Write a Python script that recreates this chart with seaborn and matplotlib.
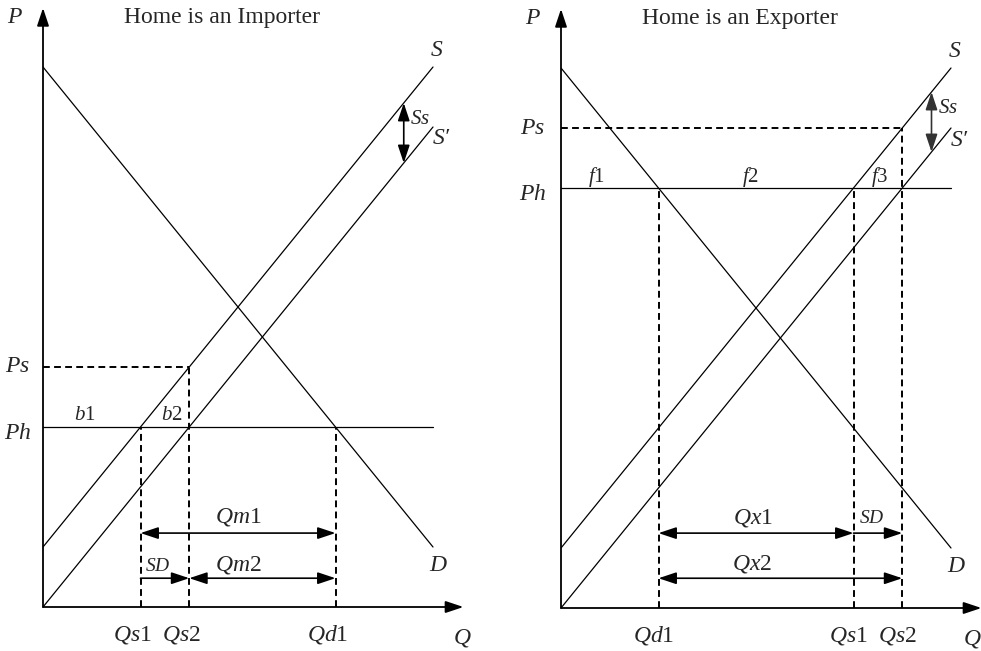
import matplotlib
matplotlib.use("Agg")
from matplotlib import pyplot as plt
import seaborn as sns
import pandas as pd

# 数据: 两端点的直线 (数量, 价格)
quantity = [0, 10]
demand_p = [11.25, 1.25]
supply_p = [1.25, 11.25]
supply_sub_p = [0, 10]

# 进口国
imp_ph, imp_ps = 3.75, 5.0
imp_qs1, imp_qs2, imp_qd1 = 2.5, 3.75, 7.5
# 出口国
exp_ph, exp_ps = 8.75, 10.0
exp_qd1, exp_qs1, exp_qs2 = 2.5, 7.5, 8.75

titles = ["Home is an Importer", "Home is an Exporter"]

sns.set_theme(style="white")
plt.rcParams['font.family'] = ['Liberation Serif', 'DejaVu Serif']
plt.rcParams['mathtext.fontset'] = 'custom'
plt.rcParams['mathtext.rm'] = 'Liberation Serif'
plt.rcParams['mathtext.it'] = 'Liberation Serif:italic'

fig = plt.figure(figsize=(9.81, 6.51), dpi=100)
W, H = 981, 651
XMAX, YMAX = 10.8, 12.5
axL = fig.add_axes([43 / W, (H - 607) / H, XMAX * 39 / W, YMAX * 48 / H])
axR = fig.add_axes([561 / W, (H - 608) / H, XMAX * 39 / W, YMAX * 48 / H])

curves = pd.DataFrame({"Q": quantity * 3,
                       "P": demand_p + supply_p + supply_sub_p,
                       "curve": ["D"] * 2 + ["S"] * 2 + ["S'"] * 2})

LW = 0.9
DASH = dict(color="black", lw=1.4, ls=(0, (3.5, 2.2)))
FS = 17
FS_S = 14


def arrow(ax, x0, y0, x1, y1, style="<|-|>", lw=1.2, color="black", hl=0.9, hw=0.3):
    ax.annotate("", xy=(x1, y1), xytext=(x0, y0), annotation_clip=False,
                arrowprops=dict(arrowstyle=f"{style},head_length={hl},head_width={hw}",
                                color=color, lw=lw, shrinkA=0, shrinkB=0,
                                mutation_scale=12))


def base(ax, title, qx):
    ax.set_xlim(0, XMAX)
    ax.set_ylim(0, YMAX)
    ax.axis("off")
    for name, g in curves.groupby("curve"):
        sns.lineplot(data=g, x="Q", y="P", ax=ax, color="black", lw=LW,
                     estimator=None, legend=False)
    arrow(ax, 0, 0, 0, YMAX - 0.02, style="-|>", lw=1.3)
    arrow(ax, 0, 0, XMAX - 0.02, 0, style="-|>", lw=1.3)
    ax.text(-0.72, 12.29, "$P$", fontsize=FS, ha="center", va="center")
    ax.text(XMAX / 2 - 0.8, 12.29, title, fontsize=FS, ha="center", va="center")
    ax.text(10.1, 11.6, "$S$", fontsize=FS, ha="center", va="center")
    ax.text(10.22, 9.75, "S\u2032", fontsize=FS, style="italic", ha="center", va="center")
    ax.text(10.15, 0.87, "$D$", fontsize=FS, ha="center", va="center")
    ax.text(qx, -0.88, "$Q$", fontsize=FS, ha="center", va="bottom")


# ---------- 左图: 进口 ----------
base(axL, titles[0], 10.75)
sns.lineplot(x=[0, XMAX - 0.8], y=[imp_ph, imp_ph], ax=axL, color="black", lw=LW)
axL.plot([0, imp_qs2], [imp_ps, imp_ps], **DASH)
axL.plot([imp_qs1, imp_qs1], [0, imp_ph], **DASH)
axL.plot([imp_qs2, imp_qs2], [0, imp_ps], **DASH)
axL.plot([imp_qd1, imp_qd1], [0, imp_ph], **DASH)
arrow(axL, 9.25, 9.25, 9.25, 10.5)
axL.text(9.42, 10.15, "$Ss$", fontsize=FS_S + 1, ha="left", va="center")
arrow(axL, imp_qs1, 1.54, imp_qd1, 1.54)
arrow(axL, imp_qs1, 0.6, imp_qs2, 0.6, style="-|>")
arrow(axL, imp_qs2, 0.6, imp_qd1, 0.6)
axL.text(5.0, 1.87, "$Qm1$", fontsize=FS, ha="center", va="center")
axL.text(5.0, 0.87, "$Qm2$", fontsize=FS, ha="center", va="center")
axL.text(2.95, 0.85, "$SD$", fontsize=FS_S, ha="center", va="center")
axL.text(1.08, 3.98, "$b1$", fontsize=FS_S + 1, ha="center", va="center")
axL.text(3.3, 3.98, "$b2$", fontsize=FS_S + 1, ha="center", va="center")
axL.text(-0.65, imp_ph - 0.14, "$Ph$", fontsize=FS, ha="center", va="center")
axL.text(-0.65, imp_ps, "$Ps$", fontsize=FS, ha="center", va="center")
for q, lab in [(imp_qs1, "$Qs1$"), (imp_qs2, "$Qs2$"), (imp_qd1, "$Qd1$")]:
    axL.text(q - 0.2, -0.58, lab, fontsize=FS, ha="center", va="center")

# ---------- 右图: 出口 ----------
base(axR, titles[1], 10.55)
sns.lineplot(x=[0, XMAX - 0.8], y=[exp_ph, exp_ph], ax=axR, color="black", lw=LW)
axR.plot([0, exp_qs2], [exp_ps, exp_ps], **DASH)
axR.plot([exp_qd1, exp_qd1], [0, exp_ph], **DASH)
axR.plot([exp_qs1, exp_qs1], [0, exp_ph], **DASH)
axR.plot([exp_qs2, exp_qs2], [0, exp_ps], **DASH)
arrow(axR, 9.5, 9.5, 9.5, 10.75, color="#333333")
axR.text(9.67, 10.4, "$Ss$", fontsize=FS_S + 1, ha="left", va="center")
arrow(axR, exp_qd1, 1.56, exp_qs1, 1.56)
arrow(axR, exp_qs1, 1.56, exp_qs2, 1.56, style="-|>")
arrow(axR, exp_qd1, 0.62, exp_qs2, 0.62)
axR.text(4.92, 1.87, "$Qx1$", fontsize=FS, ha="center", va="center")
axR.text(4.9, 0.92, "$Qx2$", fontsize=FS, ha="center", va="center")
axR.text(7.97, 1.87, "$SD$", fontsize=FS_S, ha="center", va="center")
axR.text(0.92, 8.98, "$f1$", fontsize=FS_S + 1, ha="center", va="center")
axR.text(4.85, 8.98, "$f2$", fontsize=FS_S + 1, ha="center", va="center")
axR.text(8.18, 8.98, "$f3$", fontsize=FS_S + 1, ha="center", va="center")
axR.text(-0.72, exp_ph - 0.14, "$Ph$", fontsize=FS, ha="center", va="center")
axR.text(-0.72, exp_ps, "$Ps$", fontsize=FS, ha="center", va="center")
for q, lab in [(exp_qd1, "$Qd1$"), (exp_qs1, "$Qs1$"), (exp_qs2, "$Qs2$")]:
    axR.text(q - 0.12, -0.58, lab, fontsize=FS, ha="center", va="center")

fig.savefig("out.png", dpi=100)
